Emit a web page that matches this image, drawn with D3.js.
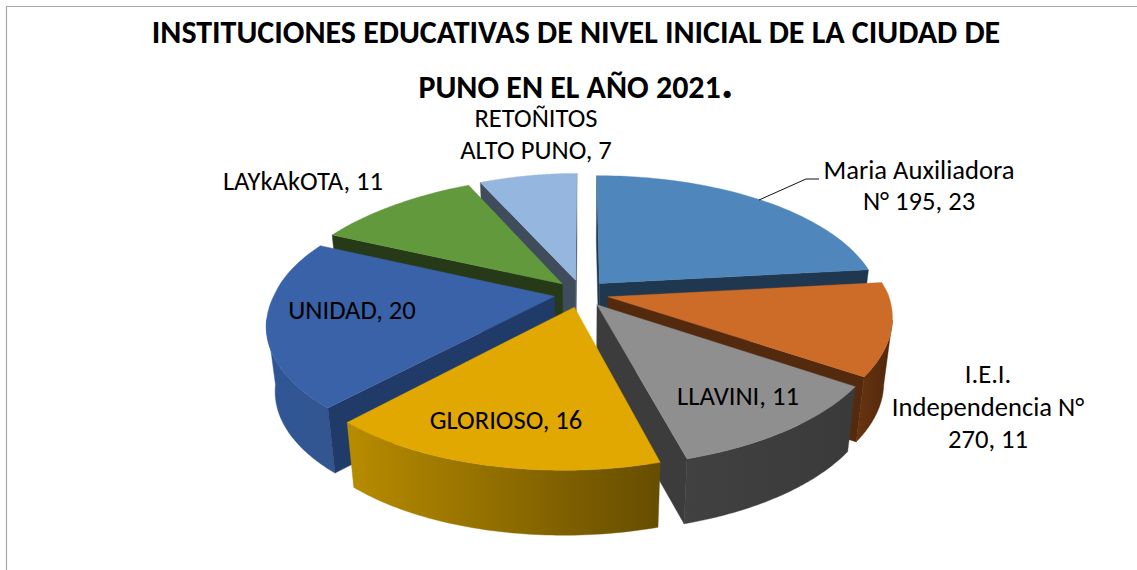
<!DOCTYPE html>
<html><head><meta charset="utf-8">
<script src="https://cdn.jsdelivr.net/npm/d3@7"></script>
<style>html,body{margin:0;padding:0;background:#fff;overflow:hidden}text{font-family:Carlito,Lato,"Open Sans",sans-serif;fill:#000}</style>
</head><body><svg id="c" width="1137" height="570"></svg>
<script>
const categories = ["Maria Auxiliadora N° 195","I.E.I. Independencia N° 270","LLAVINI","GLORIOSO","UNIDAD","LAYkAkOTA","RETOÑITOS ALTO PUNO"];
const values = [23,11,11,16,20,11,7];
const topColors = ["#4f86bb","#cd6c28","#8f8f8f","#e0a800","#3a62a8","#62993d","#95b7df"];
const wallColors = ["#203750","#542a0e","#3c3c3c","#213b69","#213b69","#263a17","#3f4c5c"];
const outerFrom = ["#3a6690","#6a3410","#414141","#b88c00","#2f5596","#4a7530","#7290b0"];
const outerTo = ["#3a6690","#4e270c","#3a3a3a","#664d00","#34568f","#4a7530","#7290b0"];
const titleLines = ["INSTITUCIONES EDUCATIVAS DE NIVEL INICIAL DE LA CIUDAD DE","PUNO EN EL AÑO 2021"];
const labelLines = [["Maria Auxiliadora","N° 195, 23"],["I.E.I.","Independencia N°","270, 11"],["LLAVINI, 11"],["GLORIOSO, 16"],["UNIDAD, 20"],["LAYkAkOTA, 11"],["RETOÑITOS","ALTO PUNO, 7"]];
const labelAnchors = [[919,179],[988,383],[738,405],[506,429],[352,319],[303,190],[536,127]];
const lineGap = [31,32.5,0,0,0,0,32];
const leader = [[759,200],[806,179],[819,179]];
const drawOrder = [6,5,0,4,1,2,3];

const cx=581.5, cy=293.5, persp=0.173, H=65, shrink=0.972, ex=0.097, ey=0.106;
const sx=d3.scaleLinear().domain([-1,1]).range([cx-280,cx+280]);
const sy=d3.scaleLinear().domain([-1,1]).range([cy-129.6,cy+129.6]);
const svg=d3.select("#c");
const defs=svg.append("defs");
svg.append("path").attr("d","M6.5 570V6.5H1137").attr("fill","none").attr("stroke","#a8a8a8").attr("stroke-width",1.2);

const arcs=d3.pie().sort(null).value(d=>d)(values);
function proj(px,py,z){
  const d=1-persp*py;
  const X=sx(px/d)-10*Math.max(py,0)+14*py*py*(py<0?1:0)*Math.max(-px,0), Y=sy(py/d);
  return [cx+(X-cx)*(1-(1-shrink)*z), Y+H*z];
}
const line=d3.line();
function rim(a0,a1){ return d3.range(0,61).map(i=>{const t=a0+(a1-a0)*i/60;return [Math.sin(t),-Math.cos(t)];}); }
const cross=(a,b,c)=>(b[0]-a[0])*(c[1]-a[1])-(b[1]-a[1])*(c[0]-a[0]);
const silhouette=Math.acos(-persp);

const g=svg.append("g");
drawOrder.forEach(i=>{
  const s=arcs[i], m=(s.startAngle+s.endAngle)/2;
  const ox=ex*Math.sin(m), oy=-ey*Math.cos(m);
  const shift=p=>[p[0]+ox,p[1]+oy];
  const top=rim(s.startAngle,s.endAngle).map(shift).map(p=>proj(p[0],p[1],0));
  const a0=proj(ox,oy,0), a1=proj(ox,oy,1);
  const id="gr"+i;
  const lg=defs.append("linearGradient").attr("id",id);
  lg.append("stop").attr("offset","0").attr("stop-color",outerFrom[i]);
  lg.append("stop").attr("offset","1").attr("stop-color",outerTo[i]);
  const wall=(pts,fill)=>g.append("path").attr("d",line(pts)+"Z").attr("fill",fill).attr("stroke",fill).attr("stroke-width",0.4);
  const f0=Math.max(s.startAngle,silhouette), f1=Math.min(s.endAngle,2*Math.PI-silhouette);
  if(f1>f0){
    const fr=rim(f0,f1).map(shift);
    wall(fr.map(p=>proj(p[0],p[1],0)).concat(fr.map(p=>proj(p[0],p[1],1)).reverse()),`url(#${id})`);
  }
  const mid=top[30];
  [top[0],top[60]].forEach((c,k)=>{
    const down=[a0[0],a0[1]+10];
    if(cross(a0,c,mid)*cross(a0,c,down)<0){
      const pl=shift(k===0?[Math.sin(s.startAngle),-Math.cos(s.startAngle)]:[Math.sin(s.endAngle),-Math.cos(s.endAngle)]);
      wall([a0,c,proj(pl[0],pl[1],1),a1],wallColors[i]);
    }
  });
  wall([a0].concat(top),topColors[i]);
});

svg.append("path").attr("d",line(leader)).attr("fill","none").attr("stroke","#111").attr("stroke-width",1);

labelLines.forEach((ls,i)=>{
  ls.forEach((t,j)=>{
    svg.append("text").attr("x",labelAnchors[i][0]).attr("y",labelAnchors[i][1]+j*lineGap[i])
      .attr("text-anchor","middle").attr("font-size",26.6).text(t);
  });
});
svg.append("text").attr("x",576).attr("y",43).attr("text-anchor","middle").attr("font-size",32).attr("font-weight",700).text(titleLines[0]);
const t2=svg.append("text").attr("x",576).attr("y",98).attr("text-anchor","middle").attr("font-size",32).attr("font-weight",700).text(titleLines[1]);
t2.append("tspan").attr("font-size",48).text(".");
</script></body></html>
